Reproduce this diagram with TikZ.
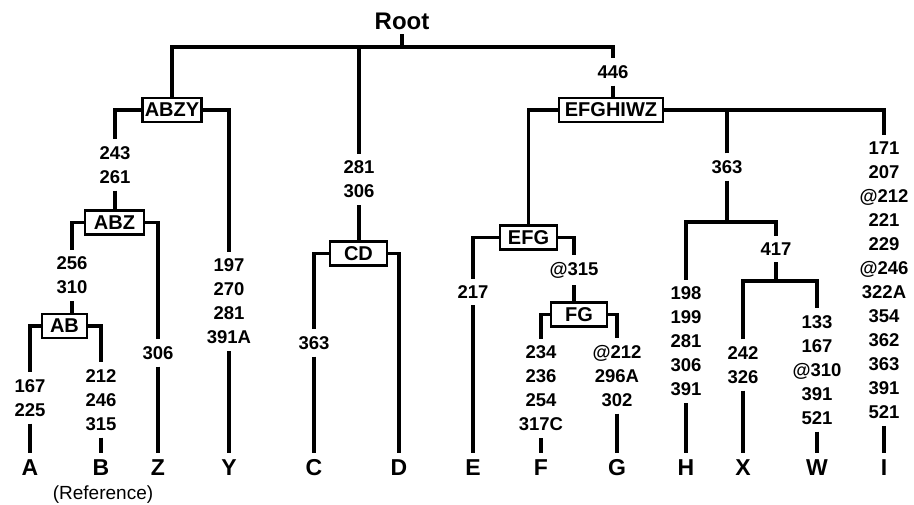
\documentclass[tikz,border=0pt]{standalone}
\usepackage{fontspec}
\setmainfont{Liberation Sans}
\begin{document}
\begin{tikzpicture}[x=1pt,y=-1pt,
  edge/.style={line width=3.3pt},
  boxnode/.style={draw, line width=2.2pt, font=\fontsize{20}{22}\selectfont\bfseries, inner xsep=2pt, minimum height=24pt, outer sep=0pt},
  lbl/.style={font=\fontsize{18.5}{24}\selectfont\bfseries, align=center, inner xsep=1pt, inner ysep=7pt, outer sep=0pt},
  leaf/.style={font=\fontsize{23}{26}\selectfont\bfseries, inner xsep=0pt, inner ysep=7pt, outer sep=0pt},
  rootnode/.style={font=\fontsize{24}{28}\selectfont\bfseries, inner xsep=0pt, inner ysep=5pt, outer sep=0pt},
  notenode/.style={font=\fontsize{19}{22}\selectfont, inner sep=0pt}
]
\useasboundingbox (0,0) rectangle (914,504);

% root and bar
\node[rootnode] (root) at (402,21) {Root};
\coordinate (bar) at (402,47);

% boxes
\node[boxnode, minimum width=59pt] (ABZY) at (172,110) {ABZY};
\node[boxnode, minimum width=59pt] (ABZ) at (114.5,222.5) {ABZ};
\node[boxnode, minimum width=45pt] (AB) at (64.5,326) {AB};
\node[boxnode, minimum width=57pt] (CD) at (358.5,253.5) {CD};
\node[boxnode, minimum width=104pt] (EFGHIWZ) at (611,110) {EFGHIWZ};
\node[boxnode, minimum width=57pt] (EFG) at (528.5,237.5) {EFG};
\node[boxnode, minimum width=56pt] (FG) at (579,314.5) {FG};

% labels
\node[lbl] (l243) at (115,165) {243\\261};
\node[lbl] (l256) at (72,275.5) {256\\310};
\node[lbl] (l167) at (30,398) {167\\225};
\node[lbl] (l212B) at (101,400) {212\\246\\315};
\node[lbl] (l306Z) at (158,353) {306};
\node[lbl] (lY) at (229,301.5) {197\\270\\281\\391A};
\node[lbl] (lCD) at (359,179.5) {281\\306};
\node[lbl] (lC) at (314,343) {363};
\node[lbl] (l446) at (613,72) {446};
\node[lbl] (l363) at (727,167) {363};
\node[lbl] (lH) at (686,341.5) {198\\199\\281\\306\\391};
\node[lbl] (l417) at (776,249) {417};
\node[lbl] (lX) at (743,365) {242\\326};
\node[lbl] (lW) at (817,370) {133\\167\\@310\\391\\521};
\node[lbl] (lI) at (884,280.5) {171\\207\\@212\\221\\229\\@246\\322A\\354\\362\\363\\391\\521};
\node[lbl] (lE) at (473,292) {217};
\node[lbl] (l315) at (574,270) {@315};
\node[lbl] (lF) at (541,388.5) {234\\236\\254\\317C};
\node[lbl] (lG) at (617,376) {@212\\296A\\302};

% leaves
\node[leaf] (A) at (30,468) {A};
\node[leaf] (B) at (101,468) {B};
\node[leaf] (Z) at (158,468) {Z};
\node[leaf] (Y) at (229,468) {Y};
\node[leaf] (C) at (314,468) {C};
\node[leaf] (D) at (399,468) {D};
\node[leaf] (E) at (473,468) {E};
\node[leaf] (F) at (541,468) {F};
\node[leaf] (G) at (617,468) {G};
\node[leaf] (H) at (686,468) {H};
\node[leaf] (X) at (743,468) {X};
\node[leaf] (W) at (817,468) {W};
\node[leaf] (I) at (884,468) {I};
\node[notenode] (ref) at (103,495) {(Reference)};

% top
\draw[edge] (root.south) -- (bar);
\draw[edge] (ABZY.north) |- (bar) -| (l446.north);
\draw[edge] (lCD.north) -- (lCD.north |- bar);
\draw[edge] (l446.south) -- (l446.south |- EFGHIWZ.north);

% ABZY subtree
\draw[edge] (ABZY.west) -| (l243.north);
\draw[edge] (l243.south) -- (l243.south |- ABZ.north);
\draw[edge] (ABZY.east) -| (lY.north);
\draw[edge] (lY.south) -- (Y.north);
\draw[edge] (ABZ.west) -| (l256.north);
\draw[edge] (l256.south) -- (l256.south |- AB.north);
\draw[edge] (ABZ.east) -| (l306Z.north);
\draw[edge] (l306Z.south) -- (Z.north);
\draw[edge] (AB.west) -| (l167.north);
\draw[edge] (l167.south) -- (A.north);
\draw[edge] (AB.east) -| (l212B.north);
\draw[edge] (l212B.south) -- (B.north);

% CD subtree
\draw[edge] (lCD.south) -- (lCD.south |- CD.north);
\draw[edge] (CD.west) -| (lC.north);
\draw[edge] (lC.south) -- (C.north);
\draw[edge] (CD.east) -| (D.north);

% EFGHIWZ subtree
\draw[edge] (EFGHIWZ.west) -| (EFG.north);
\draw[edge] (EFGHIWZ.east) -| (lI.north);
\draw[edge] (lI.south) -- (I.north);
\draw[edge] (l363.north) -- (l363.north |- EFGHIWZ.east);
\coordinate (j363) at (727,222);
\draw[edge] (l363.south) -- (j363);
\draw[edge] (lH.north) |- (j363) -| (l417.north);
\draw[edge] (lH.south) -- (H.north);
\coordinate (j417) at (776,281);
\draw[edge] (l417.south) -- (j417);
\draw[edge] (lX.north) |- (j417) -| (lW.north);
\draw[edge] (lX.south) -- (X.north);
\draw[edge] (lW.south) -- (W.north);

% EFG subtree
\draw[edge] (EFG.west) -| (lE.north);
\draw[edge] (lE.south) -- (E.north);
\draw[edge] (EFG.east) -| (l315.north);
\draw[edge] (l315.south) -- (l315.south |- FG.north);
\draw[edge] (FG.west) -| (lF.north);
\draw[edge] (lF.south) -- (F.north);
\draw[edge] (FG.east) -| (lG.north);
\draw[edge] (lG.south) -- (G.north);
\end{tikzpicture}
\end{document}
